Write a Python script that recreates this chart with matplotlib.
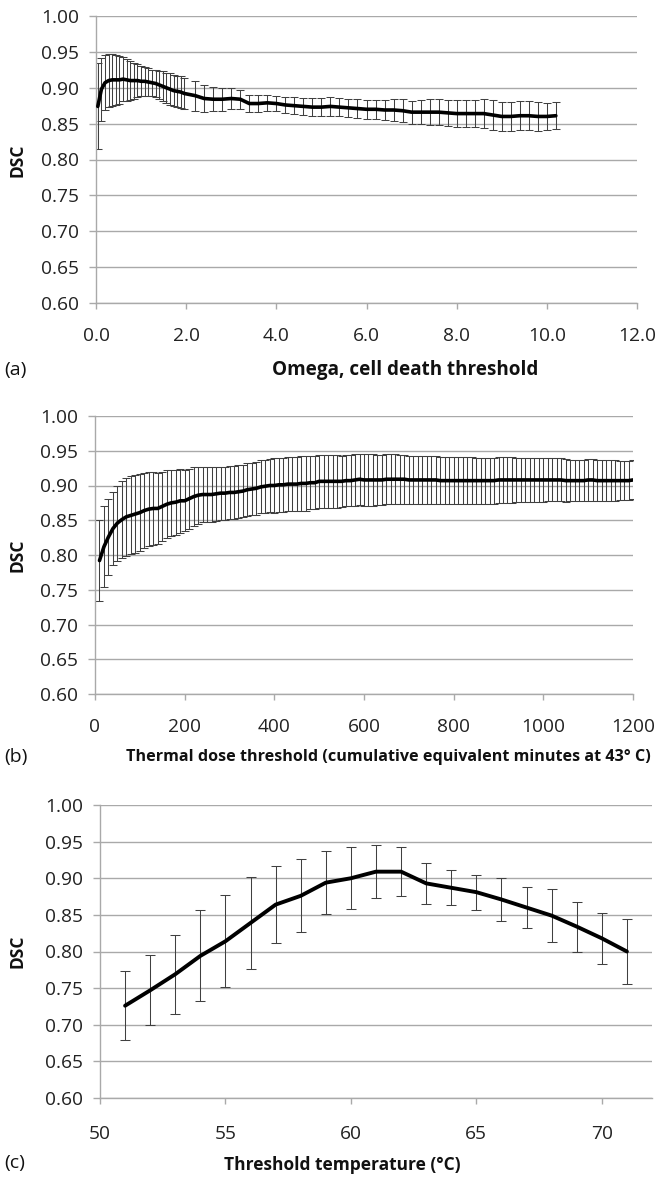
import matplotlib
matplotlib.use("Agg")
import matplotlib.pyplot as plt

plt.rcParams['font.family'] = ['Open Sans', 'DejaVu Sans']

# ---------------- Data ----------------
# (a) Omega, cell death threshold
omega_x = [0.04, 0.12, 0.20, 0.28, 0.36, 0.44, 0.52, 0.60, 0.68, 0.76, 0.84, 0.92, 1.00,
           1.08, 1.16, 1.24, 1.32, 1.40, 1.48, 1.56, 1.64, 1.72, 1.80, 1.88, 1.96,
           2.2, 2.4, 2.6, 2.8, 3.0, 3.2, 3.4, 3.6, 3.8, 4.0, 4.2, 4.4, 4.6, 4.8, 5.0,
           5.2, 5.4, 5.6, 5.8, 6.0, 6.2, 6.4, 6.6, 6.8, 7.0, 7.2, 7.4, 7.6, 7.8, 8.0,
           8.2, 8.4, 8.6, 8.8, 9.0, 9.2, 9.4, 9.6, 9.8, 10.0, 10.2]
omega_dsc = [0.874, 0.898, 0.907, 0.910, 0.911, 0.911, 0.911, 0.912, 0.911, 0.910, 0.910, 0.910, 0.909,
             0.909, 0.908, 0.907, 0.906, 0.904, 0.902, 0.900, 0.898, 0.896, 0.895, 0.894, 0.892,
             0.889, 0.885, 0.884, 0.884, 0.885, 0.884, 0.878, 0.878, 0.879, 0.878, 0.876, 0.875, 0.874, 0.873, 0.873,
             0.874, 0.873, 0.872, 0.871, 0.870, 0.870, 0.869, 0.869, 0.868, 0.866, 0.866, 0.866, 0.866, 0.865, 0.864,
             0.864, 0.864, 0.864, 0.862, 0.860, 0.860, 0.861, 0.861, 0.860, 0.860, 0.861]
omega_sd = [0.060, 0.044, 0.038, 0.037, 0.036, 0.035, 0.033, 0.031, 0.029, 0.027, 0.025, 0.023, 0.021,
            0.020, 0.019, 0.018, 0.019, 0.020, 0.021, 0.021, 0.022, 0.022, 0.022, 0.022, 0.022,
            0.021, 0.019, 0.017, 0.016, 0.015, 0.013, 0.012, 0.012, 0.011, 0.011, 0.011, 0.012, 0.012, 0.013, 0.013,
            0.013, 0.013, 0.013, 0.013, 0.013, 0.013, 0.014, 0.015, 0.016, 0.016, 0.017, 0.018, 0.018, 0.018, 0.019,
            0.019, 0.019, 0.020, 0.021, 0.020, 0.020, 0.020, 0.020, 0.020, 0.019, 0.019]

# (b) Thermal dose threshold
dose_x = [10, 20, 30, 40, 50, 60, 70, 80, 90, 100, 110, 120, 130, 140, 150, 160, 170, 180, 190, 200,
          210, 220, 230, 240, 250, 260, 270, 280, 290, 300, 310, 320, 330, 340, 350, 360, 370, 380, 390, 400,
          410, 420, 430, 440, 450, 460, 470, 480, 490, 500, 510, 520, 530, 540, 550, 560, 570, 580, 590, 600,
          610, 620, 630, 640, 650, 660, 670, 680, 690, 700, 710, 720, 730, 740, 750, 760, 770, 780, 790, 800,
          810, 820, 830, 840, 850, 860, 870, 880, 890, 900, 910, 920, 930, 940, 950, 960, 970, 980, 990, 1000,
          1010, 1020, 1030, 1040, 1050, 1060, 1070, 1080, 1090, 1100, 1110, 1120, 1130, 1140, 1150, 1160, 1170, 1180, 1190, 1200]
dose_dsc = [0.792, 0.812, 0.826, 0.838, 0.846, 0.851, 0.855, 0.857, 0.859, 0.861, 0.864, 0.866, 0.867, 0.867, 0.870, 0.873, 0.875, 0.876, 0.878, 0.878,
            0.881, 0.884, 0.886, 0.887, 0.887, 0.887, 0.888, 0.889, 0.889, 0.890, 0.890, 0.891, 0.892, 0.894, 0.895, 0.896, 0.898, 0.899, 0.900, 0.900,
            0.901, 0.901, 0.902, 0.902, 0.902, 0.903, 0.903, 0.904, 0.904, 0.906, 0.906, 0.906, 0.906, 0.906, 0.906, 0.907, 0.907, 0.908, 0.909, 0.908,
            0.908, 0.908, 0.908, 0.908, 0.909, 0.909, 0.909, 0.909, 0.909, 0.908, 0.908, 0.908, 0.908, 0.908, 0.908, 0.908, 0.907, 0.907, 0.907, 0.907,
            0.907, 0.907, 0.907, 0.907, 0.907, 0.907, 0.907, 0.907, 0.907, 0.908, 0.908, 0.908, 0.908, 0.908, 0.908, 0.908, 0.908, 0.908, 0.908, 0.908,
            0.908, 0.908, 0.908, 0.908, 0.907, 0.907, 0.907, 0.907, 0.907, 0.908, 0.908, 0.907, 0.907, 0.907, 0.907, 0.907, 0.907, 0.907, 0.907, 0.908]
dose_sd = [0.058, 0.058, 0.055, 0.053, 0.054, 0.056, 0.056, 0.056, 0.056, 0.055, 0.054, 0.053, 0.052, 0.051, 0.050, 0.049, 0.048, 0.047, 0.046, 0.044,
           0.043, 0.042, 0.041, 0.040, 0.040, 0.039, 0.039, 0.038, 0.038, 0.038, 0.038, 0.038, 0.038, 0.038, 0.038, 0.038, 0.038, 0.038, 0.038, 0.039,
           0.039, 0.039, 0.039, 0.039, 0.039, 0.039, 0.039, 0.038, 0.038, 0.038, 0.038, 0.038, 0.038, 0.038, 0.037, 0.037, 0.037, 0.037, 0.037, 0.037,
           0.037, 0.037, 0.036, 0.036, 0.036, 0.036, 0.036, 0.035, 0.035, 0.035, 0.035, 0.035, 0.035, 0.035, 0.035, 0.034, 0.034, 0.034, 0.034, 0.034,
           0.034, 0.034, 0.034, 0.034, 0.033, 0.033, 0.033, 0.033, 0.033, 0.033, 0.033, 0.033, 0.033, 0.032, 0.032, 0.032, 0.032, 0.032, 0.032, 0.032,
           0.031, 0.031, 0.031, 0.031, 0.031, 0.030, 0.030, 0.030, 0.030, 0.030, 0.030, 0.029, 0.029, 0.029, 0.029, 0.029, 0.028, 0.028, 0.028, 0.028]

# (c) Threshold temperature
temp_x = [51, 52, 53, 54, 55, 56, 57, 58, 59, 60, 61, 62, 63, 64, 65, 66, 67, 68, 69, 70, 71]
temp_dsc = [0.726, 0.747, 0.769, 0.794, 0.814, 0.839, 0.864, 0.876, 0.894, 0.900, 0.909, 0.909,
            0.893, 0.887, 0.881, 0.871, 0.860, 0.849, 0.834, 0.818, 0.800]
temp_sd = [0.047, 0.048, 0.054, 0.062, 0.063, 0.063, 0.053, 0.050, 0.043, 0.042, 0.036, 0.033,
           0.028, 0.024, 0.024, 0.030, 0.028, 0.036, 0.034, 0.035, 0.045]

y_ticks = [0.60, 0.65, 0.70, 0.75, 0.80, 0.85, 0.90, 0.95, 1.00]
a_ticks = [0.0, 2.0, 4.0, 6.0, 8.0, 10.0, 12.0]
b_ticks = [0, 200, 400, 600, 800, 1000, 1200]
c_ticks = [50, 55, 60, 65, 70]

# ---------------- Layout ----------------
W, H = 656, 1178
fig = plt.figure(figsize=(W / 100, H / 100), dpi=100)
fig.patch.set_facecolor('white')

GRID = '#a9a9a9'
ERR = '#404040'
TICKFS = 13.8


def rect(x0, x1, y0, y1):
    return [x0 / W, 1 - y1 / H, (x1 - x0) / W, (y1 - y0) / H]


def style(ax, xticks, xlim, xfmt, xpad):
    ax.set_ylim(0.60, 1.00)
    ax.set_yticks(y_ticks)
    ax.set_yticklabels([f'{v:.2f}' for v in y_ticks])
    ax.set_xlim(*xlim)
    ax.set_xticks(xticks)
    ax.set_xticklabels([xfmt(v) for v in xticks])
    ax.grid(axis='y', color=GRID, linewidth=1.0)
    ax.set_axisbelow(True)
    for s in ('top', 'right'):
        ax.spines[s].set_visible(False)
    for s in ('left', 'bottom'):
        ax.spines[s].set_color(GRID)
        ax.spines[s].set_linewidth(1.0)
    ax.tick_params(axis='y', length=5, width=1.0, color=GRID, pad=7,
                   labelsize=TICKFS, labelcolor='#222222')
    ax.tick_params(axis='x', length=4.5, width=1.0, color=GRID, pad=xpad,
                   labelsize=TICKFS, labelcolor='#222222')


def draw(ax, x, y, sd, cap, lw):
    ax.errorbar(x, y, yerr=sd, fmt='none', ecolor=ERR, elinewidth=0.75,
                capsize=cap, capthick=0.75, zorder=2)
    ax.plot(x, y, color='black', linewidth=lw, solid_joinstyle='round',
            solid_capstyle='round', zorder=3)


# Panel (a)
ax1 = fig.add_axes(rect(96, 637, 16, 303))
draw(ax1, omega_x, omega_dsc, omega_sd, 3.2, 2.6)
style(ax1, a_ticks, (0, 12), lambda v: f'{v:.1f}', 12.5)

# Panel (b)
ax2 = fig.add_axes(rect(95, 633, 416, 694))
draw(ax2, dose_x, dose_dsc, dose_sd, 3.2, 2.6)
style(ax2, b_ticks, (0, 1200), lambda v: f'{v:d}', 12.5)

# Panel (c)
ax3 = fig.add_axes(rect(100, 652, 805, 1098))
draw(ax3, temp_x, temp_dsc, temp_sd, 3.3, 2.8)
style(ax3, c_ticks, (50, 72), lambda v: f'{v:d}', 15)


def ftext(x, y, s, **kw):
    fig.text(x / W, 1 - y / H, s, **kw)


for yc in (160, 555, 951):
    ftext(18, yc, 'DSC', rotation=90, ha='center', va='center',
          fontsize=12.5, fontweight='bold', color='#111111')

ftext(4, 370, '(a)', ha='left', va='center', fontsize=14, color='#111111')
ftext(405, 370, 'Omega, cell death threshold', ha='center', va='center',
      fontsize=13.6, fontweight='bold', color='#111111')

ftext(4, 757, '(b)', ha='left', va='center', fontsize=14, color='#111111')
ftext(388, 757, 'Thermal dose threshold (cumulative equivalent minutes at 43° C)',
      ha='center', va='center', fontsize=11.6, fontweight='bold', color='#111111')

ftext(4, 1163, '(c)', ha='left', va='center', fontsize=14, color='#111111')
ftext(342, 1165, 'Threshold temperature (°C)', ha='center', va='center',
      fontsize=12.5, fontweight='bold', color='#111111')

fig.savefig('out.png', dpi=100, facecolor='white')
